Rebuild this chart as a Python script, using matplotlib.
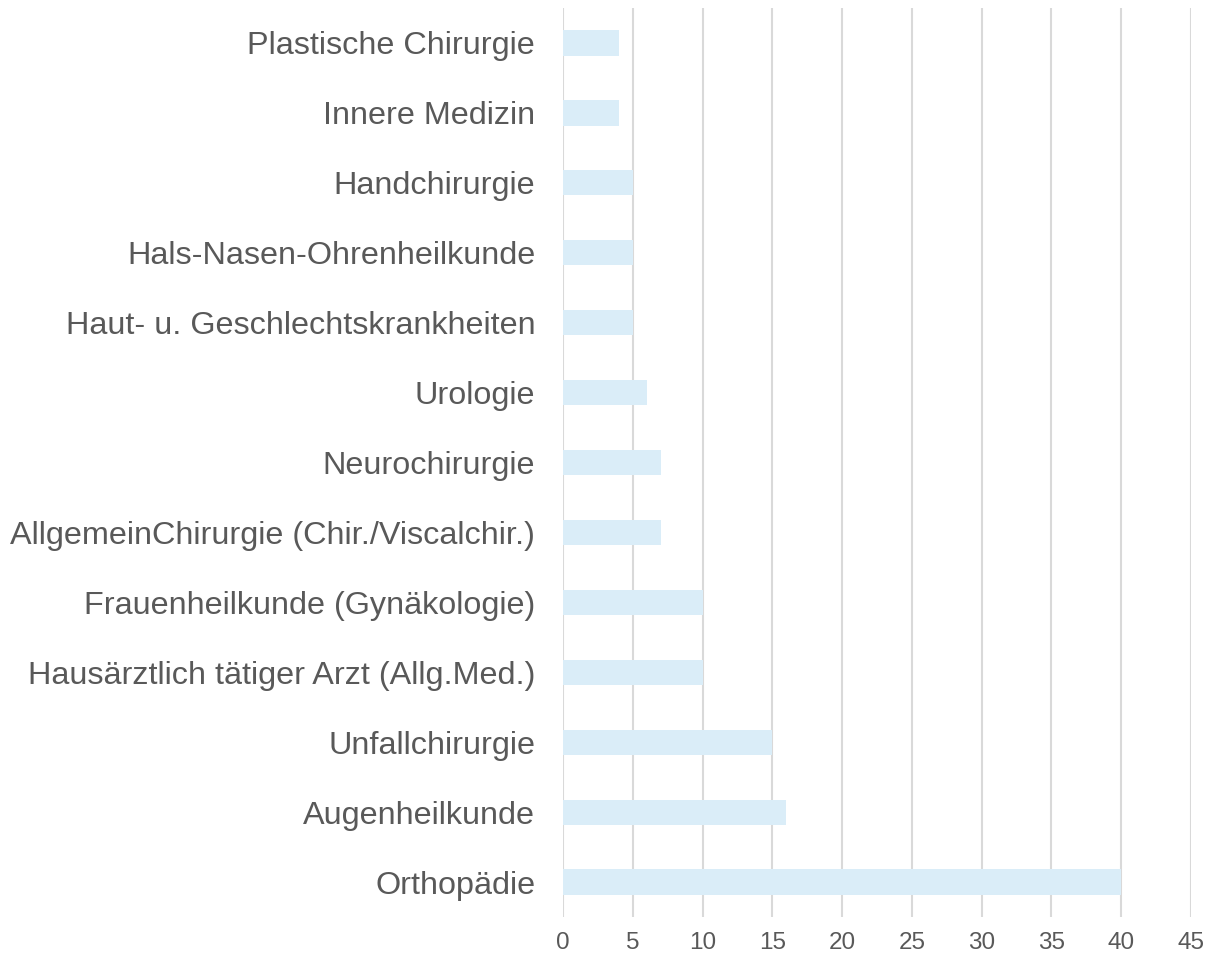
import matplotlib
matplotlib.use("Agg")
from matplotlib import pyplot as plt

plt.rcParams['font.family'] = ['Liberation Sans', 'DejaVu Sans']

categories = ['Plastische Chirurgie', 'Innere Medizin', 'Handchirurgie',
              'Hals-Nasen-Ohrenheilkunde', 'Haut- u. Geschlechtskrankheiten',
              'Urologie', 'Neurochirurgie',
              'AllgemeinChirurgie (Chir./Viscalchir.)',
              'Frauenheilkunde (Gynäkologie)',
              'Hausärztlich tätiger Arzt (Allg.Med.)',
              'Unfallchirurgie', 'Augenheilkunde', 'Orthopädie']
values = [4, 4, 5, 5, 5, 6, 7, 7, 10, 10, 15, 16, 40]
xticks = [0, 5, 10, 15, 20, 25, 30, 35, 40, 45]

fig = plt.figure(figsize=(12.06, 9.57), dpi=100)
ax = fig.add_axes([0.4668, 0.0418, 0.5208, 0.9498])

pos = list(range(len(categories)))
ax.barh(pos, values, height=0.36, color='#DAEDF8', zorder=2)
ax.set_ylim(len(categories) - 0.5, -0.5)
ax.set_xlim(0, 45)
ax.set_yticks(pos)
ax.set_yticklabels(categories, fontsize=23.3, color='#595959')
ax.set_xticks(xticks)
ax.set_xticklabels([str(t) for t in xticks], fontsize=17.5, color='#595959')
ax.tick_params(axis='both', length=0)
ax.tick_params(axis='y', pad=20)
ax.tick_params(axis='x', pad=11)
ax.grid(True, axis='x', color='#D9D9D9', linewidth=1.5, zorder=0)
for s in ax.spines.values():
    s.set_visible(False)

fig.savefig('out.png', dpi=100)
